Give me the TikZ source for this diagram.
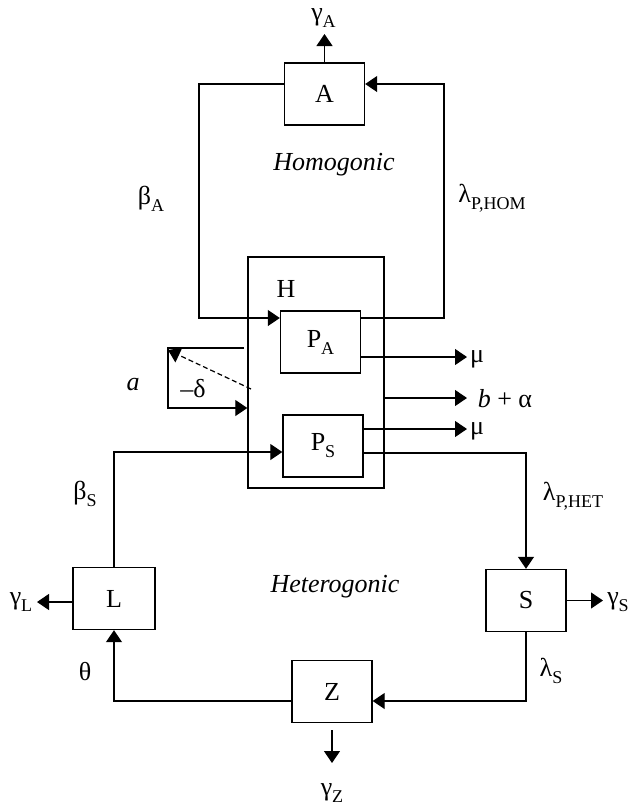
\documentclass[tikz,border=0pt]{standalone}
\usepackage{fontspec}
\setmainfont{Liberation Serif}
\usetikzlibrary{arrows.meta}
\newcommand{\lsub}[1]{\raisebox{-3.5pt}{\fontsize{9}{9}\selectfont #1}}
\begin{document}
\begin{tikzpicture}[x=0.5pt,y=-0.5pt, font=\fontsize{13}{15}\selectfont,
  box/.style={draw, line width=0.7pt, minimum width=40pt, minimum height=31pt, inner sep=0pt},
  arr/.style={line width=0.6pt, -{Triangle[length=6pt,width=8pt]}},
  wire/.style={line width=0.6pt},
  lbl/.style={anchor=base, inner sep=0pt}]
\useasboundingbox (0,0) rectangle (631,805);

% boxes
\node[box] (A) at (324.5,94) {A};
\node[draw, line width=0.7pt, minimum width=68pt, minimum height=115.5pt, inner sep=0pt] (H) at (316,372.5) {};
\node[box] (PA) at (320.5,342) {P\lsub{A}};
\node[box] (PS) at (323,446) {P\lsub{S}};
\node[box, minimum width=41pt] (L) at (114,598.5) {L};
\node[box] (S) at (526,600.5) {S};
\node[box] (Z) at (332,691.5) {Z};

% free ends
\coordinate (tA) at (324.5,34);
\coordinate (tmu1) at (467,357);
\coordinate (tba) at (467,398);
\coordinate (tmu2) at (467,429);
\coordinate (tL) at (37,602);
\coordinate (tS) at (603,600.5);
\coordinate (tZ) at (332,763);
\coordinate (lt) at (244,348);
\coordinate (lc) at (168,348);
\coordinate (lb) at (168,408);
\coordinate (ds) at (251,389);
\coordinate (lcd) at (168,350);

% connectors
\draw[arr] (A.north) -- (tA);
\draw[arr] ([yshift=5pt]A.west) -| (199,318) -- ([yshift=12pt]PA.west);
\draw[arr] ([yshift=12pt]PA.east) -| (444,84) -- ([yshift=5pt]A.east);
\draw[arr] ([yshift=-7.5pt]PA.east) -- (tmu1);
\draw[arr] ([yshift=-12.75pt]H.east) -- (tba);
\draw[arr] ([yshift=8.5pt]PS.east) -- (tmu2);
\draw[arr] ([yshift=-3.5pt]PS.east) -| (S.north);
\draw[arr] (L.north) |- ([yshift=-3pt]PS.west);
\draw[arr] ([yshift=-1.75pt]L.west) -- (tL);
\draw[arr] (S.east) -- (tS);
\draw[arr] (S.south) |- ([yshift=-4.75pt]Z.east);
\draw[arr] ([yshift=-4.75pt]Z.west) -| (L.south);
\draw[arr] ([yshift=-3.5pt]Z.south) -- (tZ);
\draw[arr] (lt) -- (lc) -- (lb) -- (H.west |- lb);
\draw[arr, dash pattern=on 2.5pt off 1.5pt] (ds) -- (lcd);

% labels
\node[lbl] (gA) at (323.5,20) {γ\lsub{A}};
\node[lbl] (bA) at (151,204) {β\lsub{A}};
\node[lbl] (lPH) at (492,202) {λ\lsub{P,HOM}};
\node[lbl] (hom) at (334,170) {\itshape Homogonic};
\node[lbl] (het) at (335,592) {\itshape Heterogonic};
\node[lbl] (Hl) at (286,297) {H};
\node[lbl] (al) at (133,390) {\itshape a};
\node[lbl] (dl) at (193,397) {–δ};
\node[lbl] (ba) at (505,407) {\textit{b} + α};
\node[lbl] (mu1) at (477,362) {μ};
\node[lbl] (mu2) at (477,434) {μ};
\node[lbl] (lPT) at (573,500) {λ\lsub{P,HET}};
\node[lbl] (bS) at (85,499) {β\lsub{S}};
\node[lbl] (gL) at (21,604) {γ\lsub{L}};
\node[lbl] (gS) at (618,604) {γ\lsub{S}};
\node[lbl] (th) at (85,680) {θ};
\node[lbl] (lS) at (551,676) {λ\lsub{S}};
\node[lbl] (gZ) at (332,795) {γ\lsub{Z}};
\end{tikzpicture}
\end{document}
